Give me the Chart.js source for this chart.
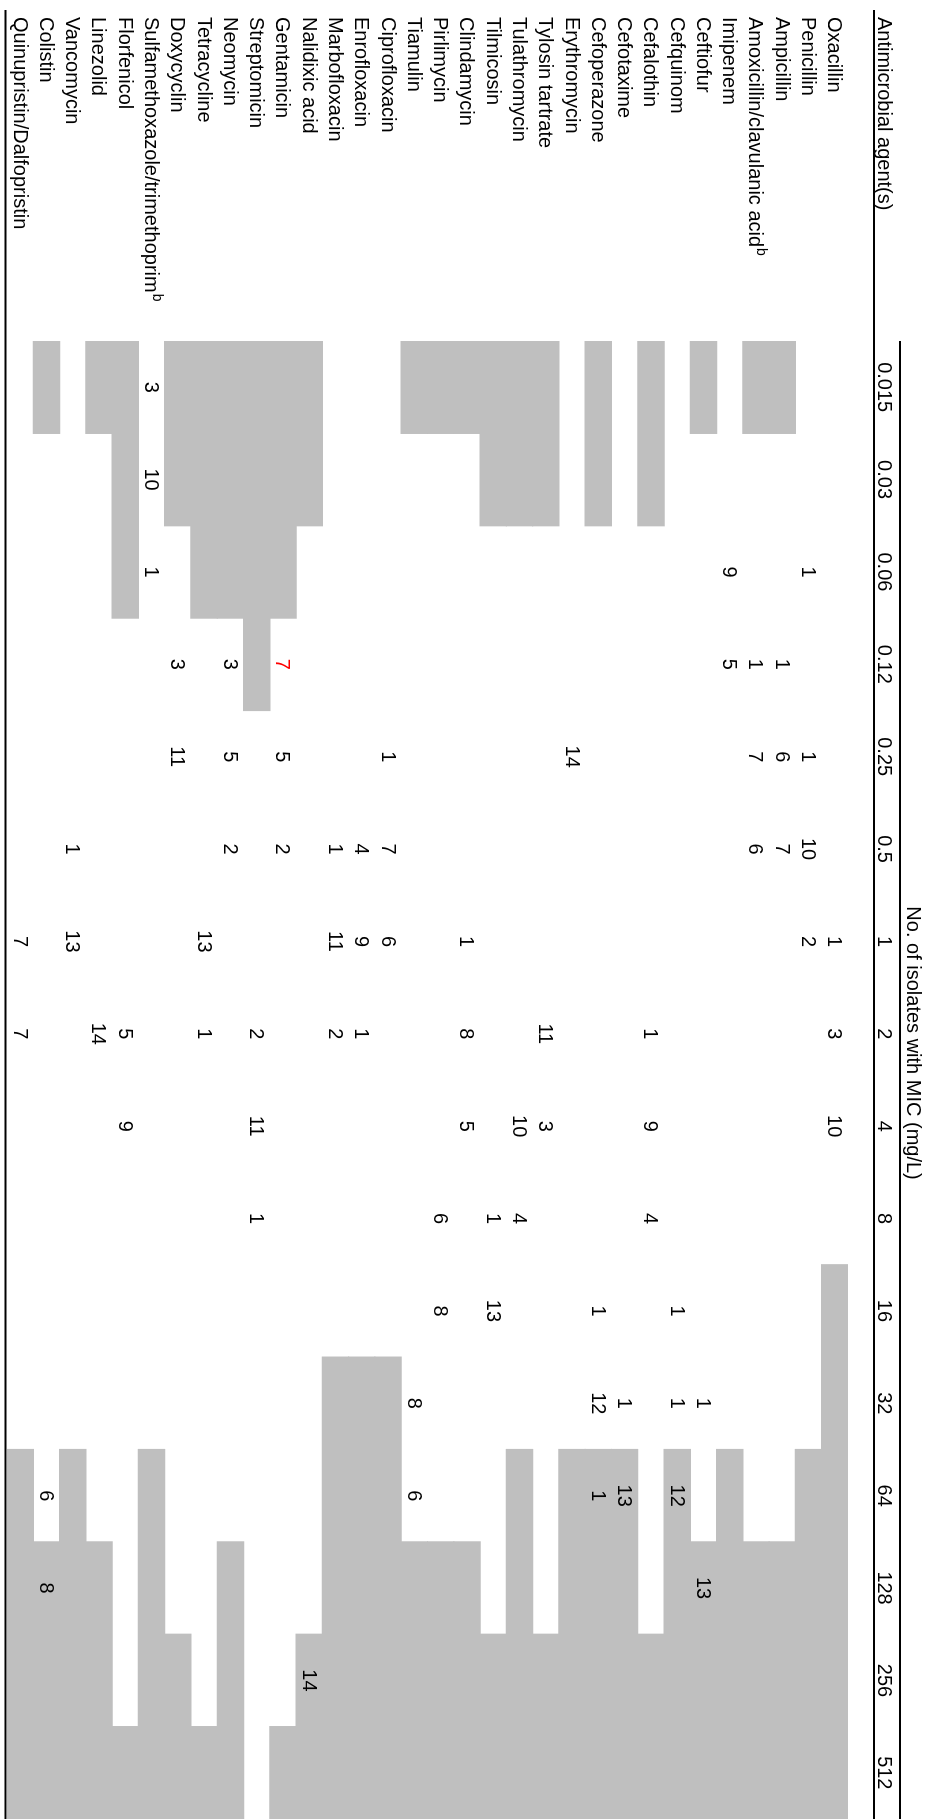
<!DOCTYPE html>
<html>
<head>
<meta charset="utf-8">
<script src="https://cdn.jsdelivr.net/npm/chart.js@4.4.1/dist/chart.umd.min.js"></script>
<style>
  html, body { margin: 0; padding: 0; background: #fff; overflow: hidden; }
  /* table is drawn upright, then turned a quarter clockwise like the printed page */
  #wrap { position: absolute; left: 926px; top: 0; width: 1819px; height: 926px;
          transform-origin: 0 0; transform: rotate(90deg); }
</style>
</head>
<body>
<div id="wrap"><canvas id="chart" width="1819" height="926"></canvas></div>
<script>
var agents = ['Oxacillin', 'Penicillin', 'Ampicillin', 'Amoxicillin/clavulanic acid', 'Imipenem',
  'Ceftiofur', 'Cefquinom', 'Cefalothin', 'Cefotaxime', 'Cefoperazone', 'Erythromycin',
  'Tylosin tartrate', 'Tulathromycin', 'Tilmicosin', 'Clindamycin', 'Pirlimycin', 'Tiamulin',
  'Ciprofloxacin', 'Enrofloxacin', 'Marbofloxacin', 'Nalidixic acid', 'Gentamicin',
  'Streptomicin', 'Neomycin', 'Tetracycline', 'Doxycyclin', 'Sulfamethoxazole/trimethoprim',
  'Florfenicol', 'Linezolid', 'Vancomycin', 'Colistin', 'Quinupristin/Dalfopristin'];
// footnote marks (superscript) per agent
var notes = ['', '', '', 'b', '', '', '', '', '', '', '', '', '', '', '', '', '', '', '', '', '',
  '', '', '', '', '', 'b', '', '', '', '', ''];
var micLabels = ['0.015', '0.03', '0.06', '0.12', '0.25', '0.5', '1', '2', '4', '8', '16', '32',
  '64', '128', '256', '512'];

// number of isolates per MIC column (0 = blank cell)
var isolates = [
  [0, 0, 0, 0, 0, 0, 1, 3, 10, 0, 0, 0, 0, 0, 0, 0],
  [0, 0, 1, 0, 1, 10, 2, 0, 0, 0, 0, 0, 0, 0, 0, 0],
  [0, 0, 0, 1, 6, 7, 0, 0, 0, 0, 0, 0, 0, 0, 0, 0],
  [0, 0, 0, 1, 7, 6, 0, 0, 0, 0, 0, 0, 0, 0, 0, 0],
  [0, 0, 9, 5, 0, 0, 0, 0, 0, 0, 0, 0, 0, 0, 0, 0],
  [0, 0, 0, 0, 0, 0, 0, 0, 0, 0, 0, 1, 0, 13, 0, 0],
  [0, 0, 0, 0, 0, 0, 0, 0, 0, 0, 1, 1, 12, 0, 0, 0],
  [0, 0, 0, 0, 0, 0, 0, 1, 9, 4, 0, 0, 0, 0, 0, 0],
  [0, 0, 0, 0, 0, 0, 0, 0, 0, 0, 0, 1, 13, 0, 0, 0],
  [0, 0, 0, 0, 0, 0, 0, 0, 0, 0, 1, 12, 1, 0, 0, 0],
  [0, 0, 0, 0, 14, 0, 0, 0, 0, 0, 0, 0, 0, 0, 0, 0],
  [0, 0, 0, 0, 0, 0, 0, 11, 3, 0, 0, 0, 0, 0, 0, 0],
  [0, 0, 0, 0, 0, 0, 0, 0, 10, 4, 0, 0, 0, 0, 0, 0],
  [0, 0, 0, 0, 0, 0, 0, 0, 0, 1, 13, 0, 0, 0, 0, 0],
  [0, 0, 0, 0, 0, 0, 1, 8, 5, 0, 0, 0, 0, 0, 0, 0],
  [0, 0, 0, 0, 0, 0, 0, 0, 0, 6, 8, 0, 0, 0, 0, 0],
  [0, 0, 0, 0, 0, 0, 0, 0, 0, 0, 0, 8, 6, 0, 0, 0],
  [0, 0, 0, 0, 1, 7, 6, 0, 0, 0, 0, 0, 0, 0, 0, 0],
  [0, 0, 0, 0, 0, 4, 9, 1, 0, 0, 0, 0, 0, 0, 0, 0],
  [0, 0, 0, 0, 0, 1, 11, 2, 0, 0, 0, 0, 0, 0, 0, 0],
  [0, 0, 0, 0, 0, 0, 0, 0, 0, 0, 0, 0, 0, 0, 14, 0],
  [0, 0, 0, 7, 5, 2, 0, 0, 0, 0, 0, 0, 0, 0, 0, 0],
  [0, 0, 0, 0, 0, 0, 0, 2, 11, 1, 0, 0, 0, 0, 0, 0],
  [0, 0, 0, 3, 5, 2, 0, 0, 0, 0, 0, 0, 0, 0, 0, 0],
  [0, 0, 0, 0, 0, 0, 13, 1, 0, 0, 0, 0, 0, 0, 0, 0],
  [0, 0, 0, 3, 11, 0, 0, 0, 0, 0, 0, 0, 0, 0, 0, 0],
  [3, 10, 1, 0, 0, 0, 0, 0, 0, 0, 0, 0, 0, 0, 0, 0],
  [0, 0, 0, 0, 0, 0, 0, 5, 9, 0, 0, 0, 0, 0, 0, 0],
  [0, 0, 0, 0, 0, 0, 0, 14, 0, 0, 0, 0, 0, 0, 0, 0],
  [0, 0, 0, 0, 0, 1, 13, 0, 0, 0, 0, 0, 0, 0, 0, 0],
  [0, 0, 0, 0, 0, 0, 0, 0, 0, 0, 0, 0, 6, 8, 0, 0],
  [0, 0, 0, 0, 0, 0, 7, 7, 0, 0, 0, 0, 0, 0, 0, 0]
];
// shaded (untested) range: columns below lowEnd, and from highStart to the end
var lowEnd = [0, 0, 1, 1, 0, 1, 0, 2, 0, 2, 0, 2, 2, 2, 1, 1, 1, 0, 0, 0, 2, 3, 4, 3, 3, 2, 0, 3, 1, 0, 1, 0];
var highStart = [10, 12, 13, 13, 12, 13, 12, 14, 12, 12, 12, 14, 12, 14, 13, 13, 13, 11, 11, 11, 14, 15, 16, 13, 15, 14, 12, 15, 13, 12, 13, 12];
// cells printed in red: [agent index, column index]
var redCells = [[21, 3]];

var FONT = '20px "Liberation Sans", Arial, sans-serif';
var GREY = 'rgb(191, 191, 191)';
var nCols = micLabels.length;

function isRed(i, k) {
  return redCells.some(function(c) { return c[0] === i && c[1] === k; });
}

var tableText = {
  id: 'tableText',
  afterDatasetsDraw: function(chart) {
    var ctx = chart.ctx, xs = chart.scales.x, ys = chart.scales.y, area = chart.chartArea;
    ctx.save();
    ctx.textBaseline = 'middle';
    ctx.fillStyle = '#000';

    // agent names
    agents.forEach(function(name, i) {
      var py = ys.getPixelForValue(i) + 1;
      ctx.font = FONT;
      ctx.textAlign = 'left';
      ctx.fillText(name, 17, py);
      if (notes[i]) {
        var w = ctx.measureText(name).width;
        ctx.font = '14px "Liberation Sans", Arial, sans-serif';
        ctx.fillText(notes[i], 17 + w + 1, py - 6);
      }
    });

    // counts
    ctx.font = FONT;
    ctx.textAlign = 'center';
    isolates.forEach(function(row, i) {
      row.forEach(function(n, k) {
        if (!n) return;
        ctx.fillStyle = isRed(i, k) ? '#ff0000' : '#000';
        ctx.fillText(String(n), xs.getPixelForValue(k + 0.5), ys.getPixelForValue(i) + 1);
      });
    });

    // header row
    ctx.fillStyle = '#000';
    micLabels.forEach(function(lab, k) {
      ctx.fillText(lab, xs.getPixelForValue(k + 0.5), area.top - 36);
    });
    ctx.fillText('No. of isolates with MIC (mg/L)', xs.getPixelForValue(7.6), area.top - 65);
    ctx.textAlign = 'left';
    ctx.fillText('Antimicrobial agent(s)', 17, area.top - 36);

    // rules
    ctx.strokeStyle = '#000';
    ctx.lineWidth = 2;
    ctx.beginPath();
    ctx.moveTo(10, area.top - 26); ctx.lineTo(area.right, area.top - 26);
    ctx.moveTo(area.left, area.top - 52); ctx.lineTo(area.right, area.top - 52);
    ctx.moveTo(10, area.bottom + 1.5); ctx.lineTo(area.right, area.bottom + 1.5);
    ctx.stroke();
    ctx.restore();
  }
};

var chart = new Chart('chart', {
  type: 'bar',
  data: {
    labels: agents,
    datasets: [
      {
        label: 'below range',
        data: lowEnd.map(function(e) { return e > 0 ? [0, e] : null; }),
        backgroundColor: GREY,
        borderWidth: 0,
        inflateAmount: 0.6,
        barPercentage: 1,
        categoryPercentage: 1,
        grouped: false
      },
      {
        label: 'above range',
        data: highStart.map(function(s) { return s < nCols ? [s, nCols] : null; }),
        backgroundColor: GREY,
        borderWidth: 0,
        inflateAmount: 0.6,
        barPercentage: 1,
        categoryPercentage: 1,
        grouped: false
      }
    ]
  },
  options: {
    indexAxis: 'y',
    responsive: false,
    animation: false,
    layout: { padding: { left: 341, top: 78, right: 0, bottom: 7 } },
    scales: {
      x: { type: 'linear', min: 0, max: nCols, display: false },
      y: { display: false }
    },
    plugins: { legend: { display: false }, tooltip: { enabled: false } }
  },
  plugins: [tableText]
});
</script>
</body>
</html>
